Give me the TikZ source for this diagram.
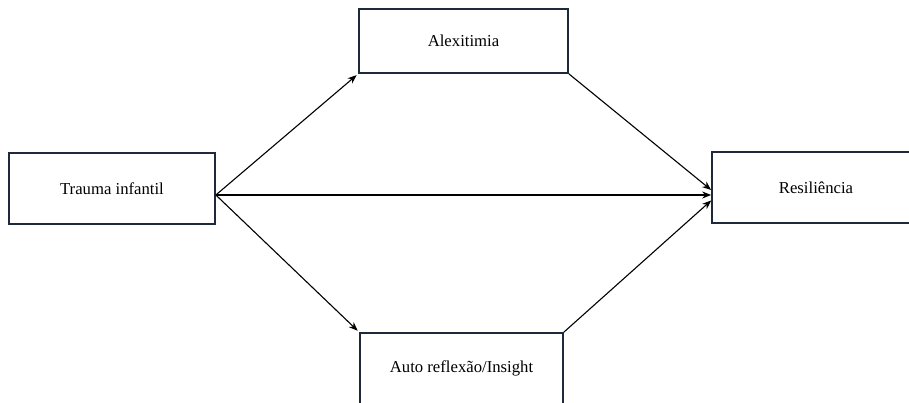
\documentclass[tikz,border=0pt]{standalone}
\usepackage{fontspec}
\setmainfont{Liberation Serif}
\usetikzlibrary{arrows.meta}
\definecolor{boxline}{RGB}{30,42,60}

\begin{document}
\begin{tikzpicture}[x=1pt, y=-1pt,
        box/.style={shape=rectangle, draw=boxline, line width=1.7pt, fill=white, inner sep=0pt, font=\fontsize{16.7}{20}\selectfont},
        link/.style={line width=1.1pt, -{Stealth[length=9pt,width=7pt]}}]
        \useasboundingbox (0,0) rectangle (909,403);

        % boxes
        \node (trauma) at (112,188.5) [box, minimum width=206pt, minimum height=71pt] {Trauma infantil};
        \node (alex) at (463.5,41) [box, minimum width=209pt, minimum height=64pt] {Alexitimia};
        \node (auto) at (461.5,368.5) [box, minimum width=203pt, minimum height=71pt] {Auto reflexão/Insight};
        \node (resil) at (816,187.5) [box, minimum width=208pt, minimum height=71pt] {Resiliência};

        % connections
        \draw[link, shorten >=2pt] ([yshift=-6.5pt]trauma.east) -- (alex.south west);
        \draw[link, shorten >=2pt] ([yshift=-6.5pt]trauma.east) -- (auto.north west);
        \draw[link] ([yshift=-6.5pt]trauma.east) -- ([yshift=-7.5pt]resil.west);
        \draw[link] (alex.south east) -- ([yshift=-2.5pt]resil.west);
        \draw[link] (auto.north east) -- ([yshift=-13pt]resil.west);
\end{tikzpicture}
\end{document}
